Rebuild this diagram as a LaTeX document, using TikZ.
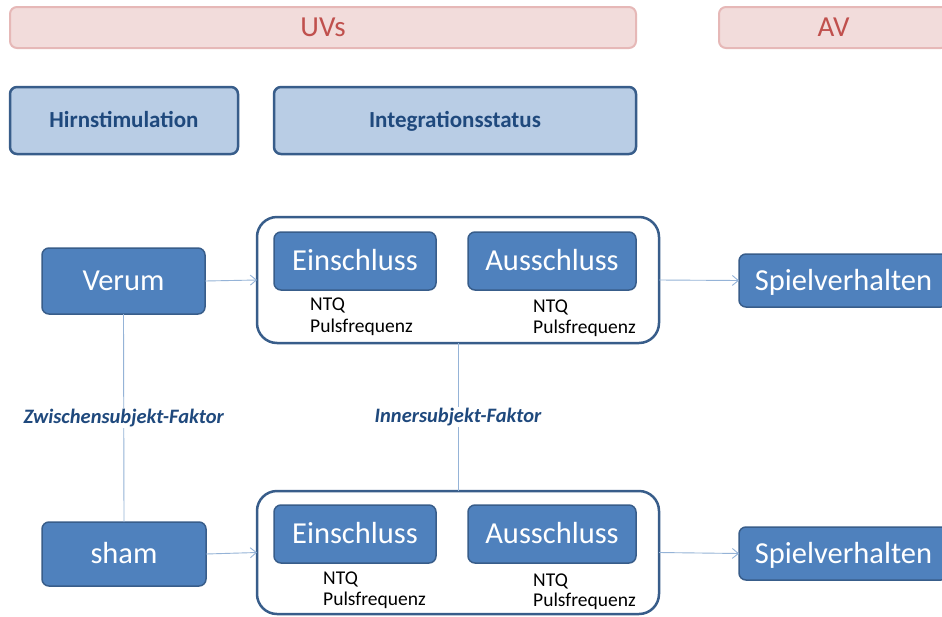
\documentclass[tikz,border=0pt]{standalone}
\usepackage{fontspec}
\setmainfont{Carlito}
\usetikzlibrary{arrows.meta}
\definecolor{pinkfill}{RGB}{242,220,219}
\definecolor{pinkline}{RGB}{230,184,183}
\definecolor{pinktext}{RGB}{192,80,77}
\definecolor{lightfill}{RGB}{185,205,229}
\definecolor{darkline}{RGB}{56,93,138}
\definecolor{darktext}{RGB}{31,73,125}
\definecolor{midfill}{RGB}{79,129,189}
\definecolor{conn}{RGB}{149,179,215}
\tikzset{
  box/.style={inner sep=0pt, outer sep=0pt, rounded corners=7pt, text depth=0pt},
  header/.style={box, text height=18.6pt, fill=pinkfill, draw=pinkline, line width=2pt, text=pinktext, font=\fontsize{29}{32}\selectfont},
  factor/.style={box, text height=14.7pt, fill=lightfill, draw=darkline, line width=2.5pt, text=darktext, font=\bfseries\fontsize{23}{26}\selectfont},
  level/.style={box, text height=19.5pt, fill=midfill, draw=darkline, line width=1.5pt, text=white, font=\fontsize{30.5}{34}\selectfont},
  sublevel/.style={level},
  container/.style={inner sep=0pt, outer sep=0pt, rounded corners=20pt, fill=white, draw=darkline, line width=2.5pt},
  measure/.style={inner sep=0pt, anchor=base west, text=black, font=\fontsize{19.5}{22}\selectfont},
  flabel/.style={inner sep=1pt, fill=white, text=darktext, font=\bfseries\itshape\fontsize{20.5}{24}\selectfont},
  link/.style={draw=conn, line width=0.9pt},
  arrowlink/.style={link, -{Straight Barb[length=6pt,width=10pt]}},
}
\begin{document}
\begin{tikzpicture}[x=1pt,y=-1pt]
\clip (0,0) rectangle (942,616);
\fill[white] (0,0) rectangle (942,616);
% headers
\node[header, minimum width=626pt, minimum height=41pt] (uvs) at (323,27.5) {UVs};
\node[header, minimum width=229pt, minimum height=41pt] (av) at (833.5,27.5) {AV};
% factors
\node[factor, minimum width=228pt, minimum height=67pt] (hirn) at (124,120.5) {Hirnstimulation};
\node[factor, minimum width=362pt, minimum height=67pt] (integ) at (455,120.5) {Integrationsstatus};
% top row
\node[level, minimum width=163pt, minimum height=66pt] (verum) at (123.5,281) {Verum};
\node[container, minimum width=402pt, minimum height=126pt] (ctop) at (458,280) {};
\node[sublevel, minimum width=162pt, minimum height=58pt] (einA) at (355,261) {Einschluss};
\node[sublevel, minimum width=168pt, minimum height=58pt] (ausA) at (552,261) {Ausschluss};
\node[measure] (mA1) at (310,310) {NTQ};
\node[measure] (mA1b) at (310,332) {Pulsfrequenz};
\node[measure] (mA2) at (533,312) {NTQ};
\node[measure] (mA2b) at (533,333) {Pulsfrequenz};
\node[level, minimum width=209pt, minimum height=53pt] (spielA) at (843.5,280.5) {Spielverhalten};
% bottom row
\node[level, minimum width=164pt, minimum height=64pt] (sham) at (124,554) {sham};
\node[container, minimum width=402pt, minimum height=123pt] (cbot) at (458,552.5) {};
\node[sublevel, minimum width=162pt, minimum height=58pt] (einB) at (355,534) {Einschluss};
\node[sublevel, minimum width=168pt, minimum height=58pt] (ausB) at (552,534) {Ausschluss};
\node[measure] (mB1) at (323,584) {NTQ};
\node[measure] (mB1b) at (323,605) {Pulsfrequenz};
\node[measure] (mB2) at (533,586) {NTQ};
\node[measure] (mB2b) at (533,606) {Pulsfrequenz};
\node[level, minimum width=209pt, minimum height=53pt] (spielB) at (843.5,553.5) {Spielverhalten};
% connectors
\draw[arrowlink] (verum.east) -- (ctop.west);
\draw[arrowlink] (ctop.east) -- (spielA.west);
\draw[arrowlink] (sham.east) -- (cbot.west);
\draw[arrowlink] (cbot.east) -- (spielB.west);
\draw[link] (verum.south) -- (sham.north) node[flabel, pos=0.5] (zw) {Zwischensubjekt-Faktor};
\draw[link] (ctop.south) -- (cbot.north) node[flabel, pos=0.5] (inn) {Innersubjekt-Faktor};
\end{tikzpicture}
\end{document}
